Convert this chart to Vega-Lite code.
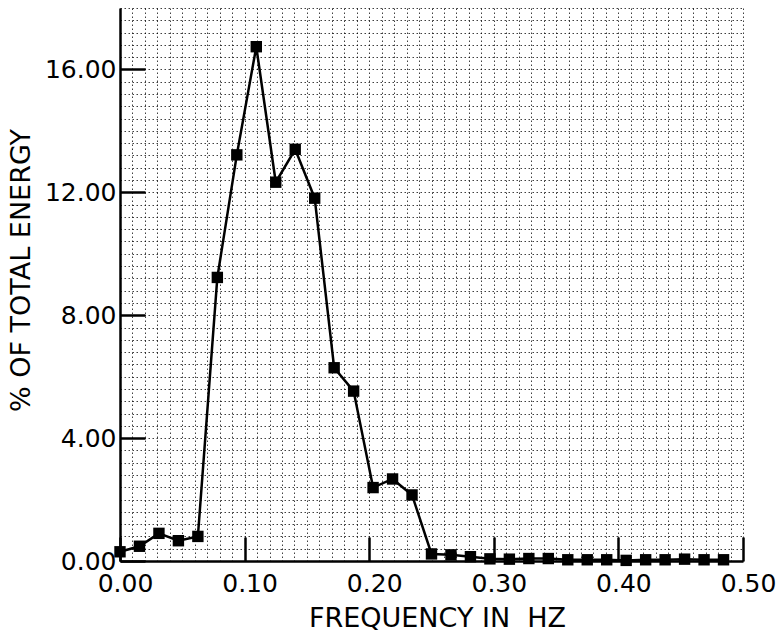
{
  "$schema": "https://vega.github.io/schema/vega-lite/v6.json",
  "width": 623,
  "height": 553,
  "autosize": "none",
  "padding": {"left": 120, "top": 8, "right": 40, "bottom": 71},
  "background": "white",
  "data": {
    "values": [
      {"f": 0, "e": 0.30},
      {"f": 0.015625, "e": 0.48},
      {"f": 0.03125, "e": 0.90},
      {"f": 0.046875, "e": 0.66},
      {"f": 0.0625, "e": 0.80},
      {"f": 0.078125, "e": 9.23},
      {"f": 0.09375, "e": 13.22},
      {"f": 0.109375, "e": 16.74},
      {"f": 0.125, "e": 12.33},
      {"f": 0.140625, "e": 13.40},
      {"f": 0.15625, "e": 11.81},
      {"f": 0.171875, "e": 6.29},
      {"f": 0.1875, "e": 5.53},
      {"f": 0.203125, "e": 2.39},
      {"f": 0.21875, "e": 2.67},
      {"f": 0.234375, "e": 2.15},
      {"f": 0.25, "e": 0.23},
      {"f": 0.265625, "e": 0.20},
      {"f": 0.28125, "e": 0.14},
      {"f": 0.296875, "e": 0.07},
      {"f": 0.3125, "e": 0.06},
      {"f": 0.328125, "e": 0.08},
      {"f": 0.34375, "e": 0.08},
      {"f": 0.359375, "e": 0.04},
      {"f": 0.375, "e": 0.04},
      {"f": 0.390625, "e": 0.04},
      {"f": 0.40625, "e": 0.02},
      {"f": 0.421875, "e": 0.04},
      {"f": 0.4375, "e": 0.04},
      {"f": 0.453125, "e": 0.06},
      {"f": 0.46875, "e": 0.04},
      {"f": 0.484375, "e": 0.04}
    ]
  },
  "encoding": {
    "x": {
      "field": "f",
      "type": "quantitative",
      "scale": {"domain": [0, 0.5], "nice": false, "zero": false},
      "axis": {
        "title": "FREQUENCY IN\u00a0 HZ",
        "values": [0,0.01,0.02,0.03,0.04,0.05,0.06,0.07,0.08,0.09,0.1,0.11,0.12,0.13,0.14,0.15,0.16,0.17,0.18,0.19,0.2,0.21,0.22,0.23,0.24,0.25,0.26,0.27,0.28,0.29,0.3,0.31,0.32,0.33,0.34,0.35,0.36,0.37,0.38,0.39,0.4,0.41,0.42,0.43,0.44,0.45,0.46,0.47,0.48,0.49,0.5],
        "labelExpr": "abs(datum.value*10 - round(datum.value*10)) < 0.001 ? format(datum.value, '.2f') : ''",
        "tickOpacity": {"condition": {"test": "abs(datum.value*10 - round(datum.value*10)) < 0.001", "value": 1}, "value": 0},
        "tickSize": -24,
        "labelPadding": 34,
        "labelOffset": 5,
        "labelFlush": false,
        "labelOverlap": false,
        "labelBaseline": "top",
        "titleX": 317,
        "titleY": 57,
        "titleBaseline": "middle",
        "titleAnchor": null
      }
    },
    "y": {
      "field": "e",
      "type": "quantitative",
      "scale": {"domain": [0, 18], "nice": false},
      "axis": {
        "title": "% OF TOTAL ENERGY",
        "values": [0,0.4,0.8,1.2,1.6,2.0,2.4,2.8,3.2,3.6,4.0,4.4,4.8,5.2,5.6,6.0,6.4,6.8,7.2,7.6,8.0,8.4,8.8,9.2,9.6,10.0,10.4,10.8,11.2,11.6,12.0,12.4,12.8,13.2,13.6,14.0,14.4,14.8,15.2,15.6,16.0,16.4,16.8,17.2,17.6,18.0],
        "labelExpr": "abs(datum.value/4 - round(datum.value/4)) < 0.001 && datum.value < 17 ? format(datum.value, '.2f') : ''",
        "tickOpacity": {"condition": {"test": "abs(datum.value/4 - round(datum.value/4)) < 0.001 && datum.value < 17", "value": 1}, "value": 0},
        "tickSize": -25,
        "labelPadding": 29,
        "labelFlush": false,
        "labelOverlap": false,
        "titleX": -99,
        "titleY": 262,
        "titleBaseline": "middle",
        "titleAnchor": null
      }
    }
  },
  "layer": [
    {"mark": {"type": "line", "color": "black", "strokeWidth": 2.5}},
    {"mark": {"type": "point", "shape": "square", "filled": true, "color": "black", "opacity": 1, "size": 130}}
  ],
  "config": {
    "view": {"stroke": null},
    "axis": {
      "domainColor": "black",
      "domainWidth": 2.5,
      "tickColor": "black",
      "tickWidth": 2.5,
      "labelFont": "DejaVu Sans",
      "labelFontSize": 25,
      "labelColor": "black",
      "titleFont": "DejaVu Sans",
      "titleFontSize": 27,
      "titleFontWeight": "normal",
      "titleColor": "black",
      "grid": true,
      "gridColor": "black",
      "gridDash": [1.5, 2.5],
      "gridWidth": 1,
      "gridOpacity": 0.75
    }
  }
}
